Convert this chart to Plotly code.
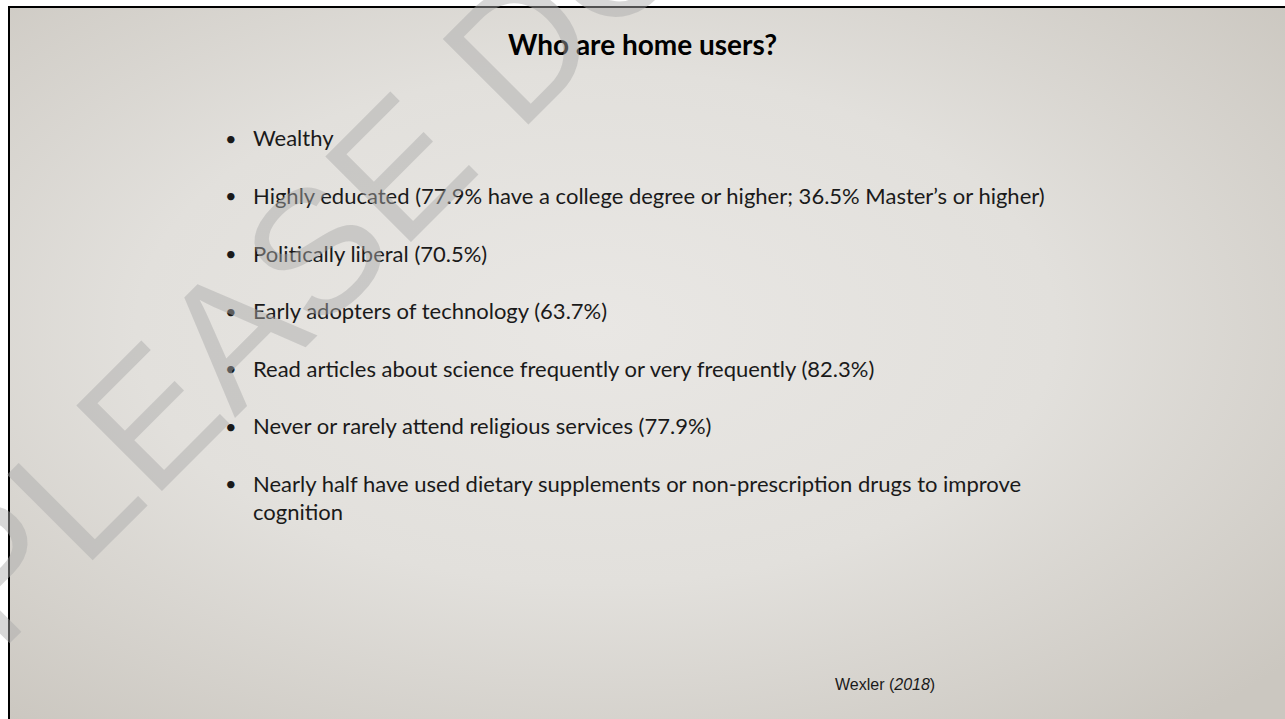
import base64
import plotly.graph_objects as go

# ---------------- data (slide content) ----------------
TITLE = "Who are home users?"
BULLETS = [
    ["Wealthy"],
    ["Highly educated (77.9% have a college degree or higher; 36.5% Master\u2019s or higher)"],
    ["Politically liberal (70.5%)"],
    ["Early adopters of technology (63.7%)"],
    ["Read articles about science frequently or very frequently (82.3%)"],
    ["Never or rarely attend religious services (77.9%)"],
    ["Nearly half have used dietary supplements or non-prescription drugs to improve",
     "cognition"],
]
CITATION_AUTHOR = "Wexler"
CITATION_YEAR = "2018"
WATERMARK = "PLEASE DO NOT COPY"

# ---------------- layout constants ----------------
W, H = 1285, 719
BODY_FONT = "Gill Sans MT, Gill Sans, Lato, sans-serif"
BODY_SIZE = 22
TITLE_SIZE = 28
TEXT_COLOR = "#1a1a1a"


def px(x):
    return x / W


def py(y):
    return 1 - y / H


# background gradient (slide theme) as an SVG image
svg = f"""<svg xmlns="http://www.w3.org/2000/svg" width="{W}" height="{H}" viewBox="0 0 {W} {H}" preserveAspectRatio="none">
<defs><radialGradient id="g" cx="0.46" cy="0.45" r="0.72">
<stop offset="0" stop-color="#e9e7e4"/>
<stop offset="0.5" stop-color="#e2e0dc"/>
<stop offset="1" stop-color="#cbc7c0"/>
</radialGradient></defs>
<rect x="0" y="0" width="{W}" height="{H}" fill="url(#g)"/>
</svg>"""
bg_uri = "data:image/svg+xml;base64," + base64.b64encode(svg.encode()).decode()

fig = go.Figure()

annotations = []
# title
annotations.append(dict(
    text=f"<b>{TITLE}</b>", x=px(642), y=py(55 - 0.387 * TITLE_SIZE), xref="paper", yref="paper",
    xanchor="center", yanchor="middle", showarrow=False,
    font=dict(family=BODY_FONT, size=TITLE_SIZE, color="#000000"),
))

# bullets
first_baseline = 146.4
step = 57.6
cont_step = 28.0
off = 0.387 * BODY_SIZE
for i, lines in enumerate(BULLETS):
    base = first_baseline + i * step
    annotations.append(dict(
        text="\u2022", x=px(223), y=py(base - off), xref="paper", yref="paper",
        xanchor="left", yanchor="middle", showarrow=False,
        font=dict(family=BODY_FONT, size=BODY_SIZE - 2, color=TEXT_COLOR),
    ))
    for j, line in enumerate(lines):
        annotations.append(dict(
            text=line, x=px(251), y=py(base + j * cont_step - off),
            xref="paper", yref="paper",
            xanchor="left", yanchor="middle", showarrow=False,
            font=dict(family=BODY_FONT, size=BODY_SIZE, color=TEXT_COLOR),
        ))

# citation
annotations.append(dict(
    text=f"{CITATION_AUTHOR} (<i>{CITATION_YEAR}</i>)", x=px(833), y=py(690 - 0.3465 * 16),
    xref="paper", yref="paper", xanchor="left", yanchor="middle", showarrow=False,
    font=dict(family="Liberation Sans, Arial, sans-serif", size=16, color=TEXT_COLOR),
))

# watermark (on top)
annotations.append(dict(
    text=WATERMARK, x=px(650.8), y=py(-83.6), xref="paper", yref="paper",
    xanchor="center", yanchor="middle", showarrow=False, textangle=-45,
    font=dict(family="Liberation Sans, Arial, sans-serif", size=176,
              color="rgba(170,170,170,0.47)"),
))

fig.update_layout(
    width=W, height=H,
    margin=dict(l=0, r=0, t=0, b=0),
    paper_bgcolor="#ffffff",
    plot_bgcolor="rgba(0,0,0,0)",
    xaxis=dict(visible=False, range=[0, 1]),
    yaxis=dict(visible=False, range=[0, 1]),
    showlegend=False,
    annotations=annotations,
    images=[dict(
        source=bg_uri, xref="paper", yref="paper",
        x=px(9), y=py(7), sizex=(W - 9) / W, sizey=(H - 7) / H,
        xanchor="left", yanchor="top", sizing="stretch", layer="below",
    )],
    shapes=[
        dict(type="line", xref="paper", yref="paper", x0=px(8), x1=1, y0=py(7), y1=py(7),
             line=dict(color="#000000", width=2)),
        dict(type="line", xref="paper", yref="paper", x0=px(9), x1=px(9), y0=py(6), y1=0,
             line=dict(color="#000000", width=2)),
    ],
)

fig.write_html(
    "out.html",
    config={"displayModeBar": False},
    post_script="document.body.style.margin='0';document.body.style.overflow='hidden';",
)
